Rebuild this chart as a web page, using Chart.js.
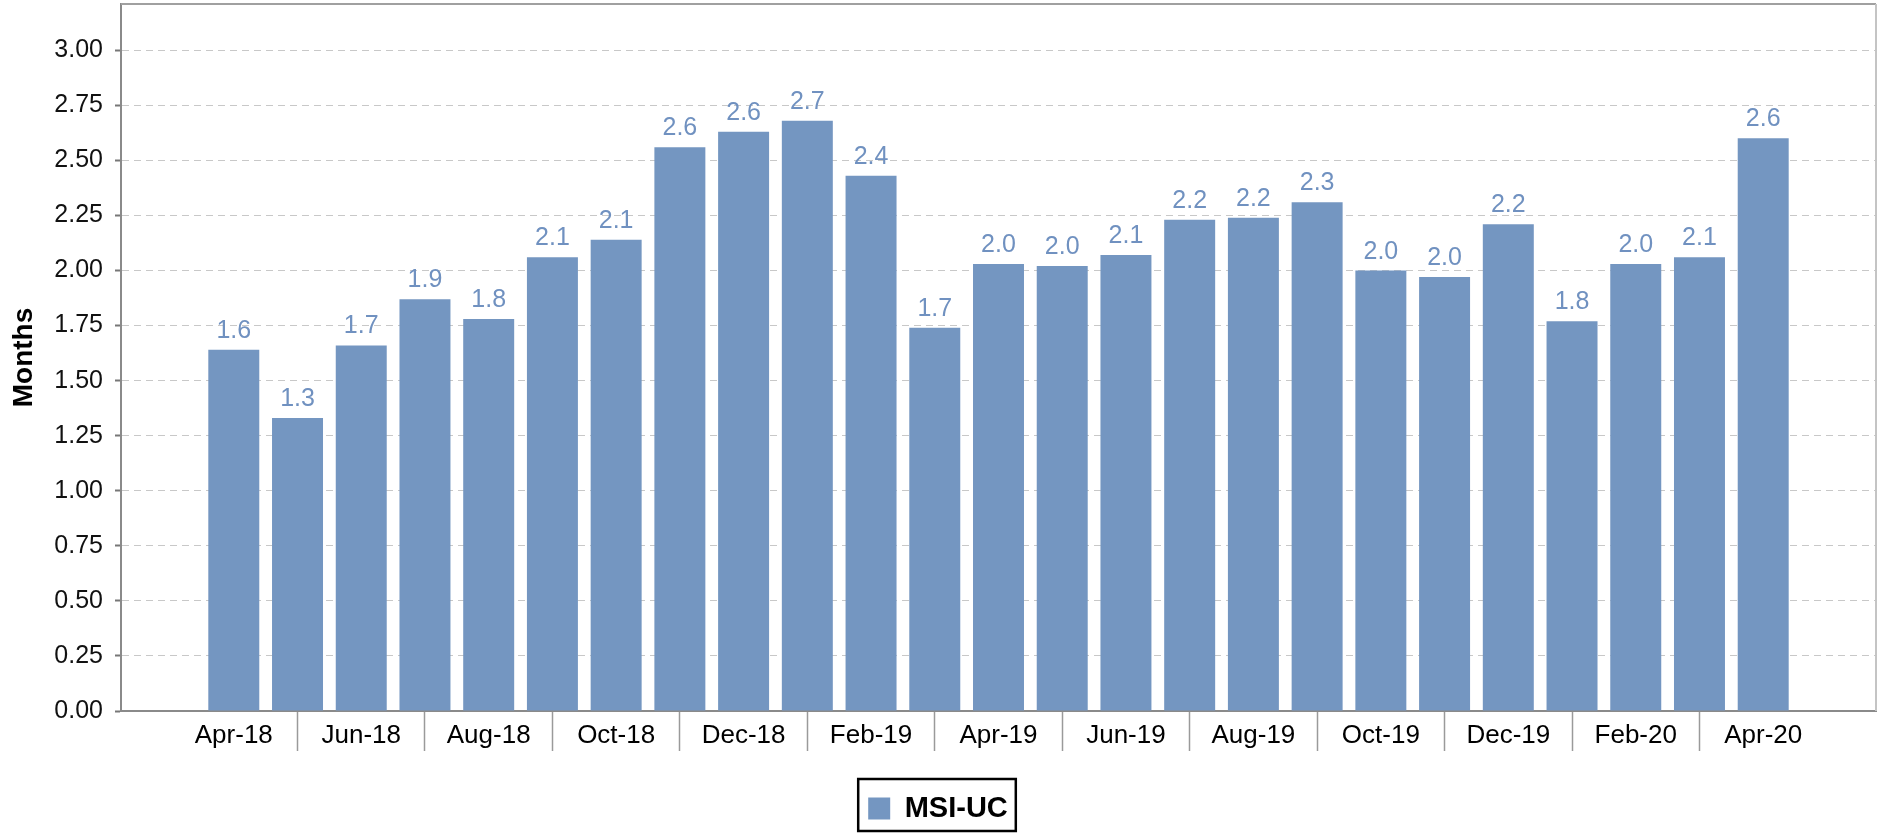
<!DOCTYPE html>
<html>
<head>
<meta charset="utf-8">
<script src="https://cdn.jsdelivr.net/npm/chart.js@4"></script>
<style>
  body { margin: 0; background: #fff; }
  #chart { display: block; }
</style>
</head>
<body>
<canvas id="chart" width="1879" height="833"></canvas>
<script>
const months = [
  'Apr-18', 'May-18', 'Jun-18', 'Jul-18', 'Aug-18', 'Sep-18', 'Oct-18', 'Nov-18', 'Dec-18',
  'Jan-19', 'Feb-19', 'Mar-19', 'Apr-19', 'May-19', 'Jun-19', 'Jul-19', 'Aug-19', 'Sep-19',
  'Oct-19', 'Nov-19', 'Dec-19', 'Jan-20', 'Feb-20', 'Mar-20', 'Apr-20'
];
const msiUc = [
  1.64, 1.33, 1.66, 1.87, 1.78, 2.06, 2.14, 2.56, 2.63,
  2.68, 2.43, 1.74, 2.03, 2.02, 2.07, 2.23, 2.24, 2.31,
  2.00, 1.97, 2.21, 1.77, 2.03, 2.06, 2.60
];
const seriesName = 'MSI-UC';
const yTitle = 'Months';

const FONT = '"Liberation Sans", Arial, sans-serif';
const barColor = '#7496c1';

// values drawn above every bar
const valueLabels = {
  id: 'valueLabels',
  afterDatasetsDraw(chart) {
    const { ctx } = chart;
    const meta = chart.getDatasetMeta(0);
    ctx.save();
    ctx.font = '25px ' + FONT;
    ctx.fillStyle = '#7091c0';
    ctx.textAlign = 'center';
    ctx.textBaseline = 'alphabetic';
    meta.data.forEach((bar, i) => {
      ctx.fillText(msiUc[i].toFixed(1), bar.x, bar.y - 12);
    });
    ctx.restore();
  }
};

// top and right edges of the plot box, and the frame round the legend
const frame = {
  id: 'frame',
  afterDraw(chart) {
    const { ctx, chartArea: a } = chart;
    ctx.save();
    ctx.lineWidth = 2;
    ctx.strokeStyle = '#a0a0a0';
    ctx.beginPath();
    ctx.moveTo(a.left, a.top);
    ctx.lineTo(a.right, a.top);
    ctx.stroke();
    ctx.strokeStyle = '#c4c4c4';
    ctx.beginPath();
    ctx.moveTo(a.right, a.top);
    ctx.lineTo(a.right, a.bottom);
    ctx.stroke();

    const hb = chart.legend.legendHitBoxes[0];
    if (hb) {
      ctx.strokeStyle = '#000';
      ctx.lineWidth = 2.5;
      ctx.strokeRect(hb.left - 10, hb.top - 15, hb.width + 18, hb.height + 23);
    }
    ctx.restore();
  }
};

new Chart(document.getElementById('chart'), {
  type: 'bar',
  data: {
    datasets: [{
      label: seriesName,
      data: msiUc.map((v, i) => ({ x: i, y: v })),
      backgroundColor: barColor,
      borderWidth: 0,
      categoryPercentage: 1,
      barPercentage: 0.8
    }]
  },
  options: {
    responsive: false,
    animation: false,
    layout: { padding: { top: 4, right: 3, left: 0, bottom: 0 } },
    plugins: {
      legend: {
        position: 'bottom',
        labels: {
          font: { family: FONT, size: 29, weight: 'bold' },
          color: '#000',
          boxWidth: 22,
          boxHeight: 22,
          padding: 10
        }
      },
      tooltip: { enabled: false }
    },
    scales: {
      x: {
        type: 'linear',
        offset: false,
        min: -1.77,
        max: 25.77,
        afterBuildTicks(scale) {
          scale.ticks = months.map((_, i) => ({ value: i }));
        },
        afterFit(scale) {
          scale.height = 73;
          scale.paddingLeft = 0;
          scale.paddingRight = 0;
        },
        ticks: {
          autoSkip: false,
          maxRotation: 0,
          includeBounds: false,
          padding: -31,
          color: '#000',
          font: { family: FONT, size: 26 },
          callback: (v) => (v % 2 === 0 ? months[v] : '')
        },
        grid: {
          offset: false,
          drawOnChartArea: false,
          tickLength: 40,
          tickWidth: 1.5,
          tickColor: (c) => (c.tick && c.tick.value % 2 === 1 ? '#9a9a9a' : 'rgba(0,0,0,0)')
        },
        border: { color: '#8a8a8a', width: 2 }
      },
      y: {
        min: 0,
        max: 3.21,
        afterFit(scale) {
          scale.width = 121;
          scale.paddingTop = 0;
          scale.paddingBottom = 0;
        },
        ticks: {
          stepSize: 0.25,
          includeBounds: false,
          padding: 12,
          color: '#111',
          font: { family: FONT, size: 25 },
          callback: (v) => v.toFixed(2)
        },
        grid: {
          color: '#c8c8c8',
          lineWidth: 1,
          tickLength: 6,
          tickWidth: 2,
          tickColor: '#777'
        },
        border: { color: '#8a8a8a', width: 2, dash: [7, 5] },
        title: {
          display: true,
          text: yTitle,
          color: '#000',
          font: { family: FONT, size: 28, weight: 'bold' },
          padding: { top: 7, bottom: 0 }
        }
      }
    }
  },
  plugins: [valueLabels, frame]
});
</script>
</body>
</html>
